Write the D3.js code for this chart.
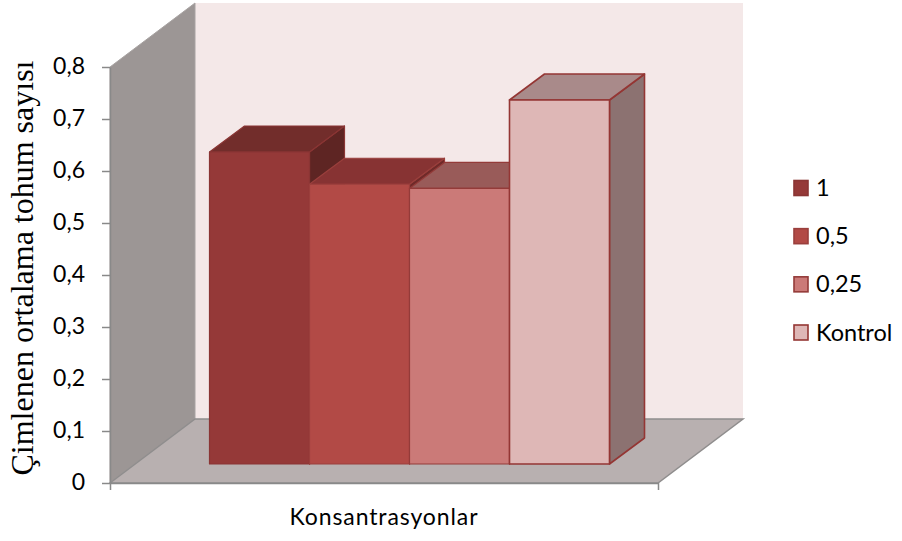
<!DOCTYPE html>
<html>
<head>
<meta charset="utf-8">
<script src="https://cdnjs.cloudflare.com/ajax/libs/d3/7.8.5/d3.min.js"></script>
<style>
  html, body { margin: 0; padding: 0; background: #fff; }
  svg { display: block; }
  text { font-family: Lato, sans-serif; fill: #000; }
</style>
</head>
<body>
<svg id="chart" width="902" height="541"></svg>
<script>
var categories = ["Konsantrasyonlar"];
var seriesNames = ["1", "0,5", "0,25", "Kontrol"];
var seriesValues = [0.6, 0.538, 0.53, 0.70];
var yTicks = [0, 0.1, 0.2, 0.3, 0.4, 0.5, 0.6, 0.7, 0.8];

var frontColors = ["#953938", "#b24a46", "#cb7a78", "#deb7b6"];
var topColors = ["#722d2b", "#873333", "#995b59", "#a98a8a"];
var sideColors = ["#5e2523", "#6f2a29", "#855050", "#8c7271"];
var edgeColors = ["#8a3534", "#9a3f3c", "#943b39", "#943634"];

var svg = d3.select("#chart");

var locale = d3.formatLocale({decimal: ",", thousands: ".", grouping: [3], currency: ["", ""]});

var y = d3.scaleLinear().domain([0, 0.8]).range([483, 67]);
var xAxisScale = d3.scaleBand().domain(categories).range([110, 658]);
var xBar = d3.scaleBand().domain(seriesNames).range([209.5, 609.5]);

// depth of the box and of the bars
var boxDx = 85, boxDy = -64;
var barDx = 35, barDy = -26;
var barLift = 19; // bars stand a bit behind the front edge

var line = d3.line();

// walls and floor
var x0 = xAxisScale.range()[0], x1 = xAxisScale.range()[1];
var yb = y(0), yt = y(0.8);

svg.append("path")
  .attr("d", line([[x0 + boxDx, yt + boxDy], [x1 + boxDx, yt + boxDy], [x1 + boxDx, yb + boxDy], [x0 + boxDx, yb + boxDy]]) + "Z")
  .attr("fill", "#f4e8e8");

svg.append("path")
  .attr("d", line([[x0, yt], [x0 + boxDx, yt + boxDy], [x0 + boxDx, yb + boxDy], [x0, yb]]) + "Z")
  .attr("fill", "#9c9695")
  .attr("stroke", "#a8a3a2");

svg.append("path")
  .attr("d", line([[x0, yb], [x0 + boxDx, yb + boxDy], [x1 + boxDx, yb + boxDy], [x1, yb]]) + "Z")
  .attr("fill", "#b8b0b0")
  .attr("stroke", "#8f8d8d")
  .attr("stroke-width", 1.5);

// bars, left to right so the next one covers the side of the last
seriesNames.forEach(function(name, i) {
  var left = xBar(name);
  var right = left + xBar.bandwidth();
  var top = y(seriesValues[i]) - barLift;
  var bottom = y(0) - barLift;
  var g = svg.append("g")
    .attr("stroke", edgeColors[i])
    .attr("stroke-width", i == 3 ? 1.6 : 1.2)
    .attr("stroke-linejoin", "round");

  g.append("path")
    .attr("d", line([[right, top], [right + barDx, top + barDy], [right + barDx, bottom + barDy], [right, bottom]]) + "Z")
    .attr("fill", sideColors[i]);
  g.append("path")
    .attr("d", line([[left, top], [left + barDx, top + barDy], [right + barDx, top + barDy], [right, top]]) + "Z")
    .attr("fill", topColors[i]);
  g.append("rect")
    .attr("x", left)
    .attr("y", top)
    .attr("width", right - left)
    .attr("height", bottom - top)
    .attr("fill", frontColors[i]);
});

// axes
var yAxis = d3.axisLeft(y)
  .tickValues(yTicks)
  .tickFormat(locale.format(".1~f"))
  .tickSizeInner(8)
  .tickSizeOuter(0)
  .tickPadding(17);

var yG = svg.append("g").attr("transform", "translate(" + x0 + ",0)").call(yAxis);
yG.selectAll("path, line").attr("stroke", "#898989").attr("stroke-width", 1.5);
yG.selectAll("text").style("font-size", "23px").attr("dy", "0.3em");

var xAxis = d3.axisBottom(xAxisScale)
  .tickSizeInner(0)
  .tickSizeOuter(7)
  .tickPadding(26);

var xG = svg.append("g").attr("transform", "translate(0," + yb + ")").call(xAxis);
xG.selectAll("path").attr("stroke", "#898989").attr("stroke-width", 1.5);
xG.selectAll("line").remove();
xG.selectAll("text")
  .style("font-size", "23px")
  .style("letter-spacing", "0.9px");

// y title
svg.append("text")
  .attr("transform", "translate(33,268) rotate(-90)")
  .attr("text-anchor", "middle")
  .style("font-family", "'Liberation Serif', serif")
  .style("font-size", "32px")
  .text("Çimlenen ortalama tohum sayısı");

// legend
var legendY = d3.scalePoint().domain(seriesNames).range([188, 332.5]);

var legend = svg.selectAll(".legend")
  .data(seriesNames)
  .enter().append("g")
  .attr("class", "legend")
  .attr("transform", function(d) { return "translate(794," + legendY(d) + ")"; });

legend.append("rect")
  .attr("x", 0)
  .attr("y", -7.5)
  .attr("width", 14)
  .attr("height", 15)
  .attr("fill", function(d, i) { return frontColors[i]; })
  .attr("stroke", function(d, i) { return edgeColors[i]; })
  .attr("stroke-width", 1.6);

legend.append("text")
  .attr("x", 22)
  .attr("y", 8)
  .style("font-size", "23.5px")
  .text(function(d) { return d; });
</script>
</body>
</html>
